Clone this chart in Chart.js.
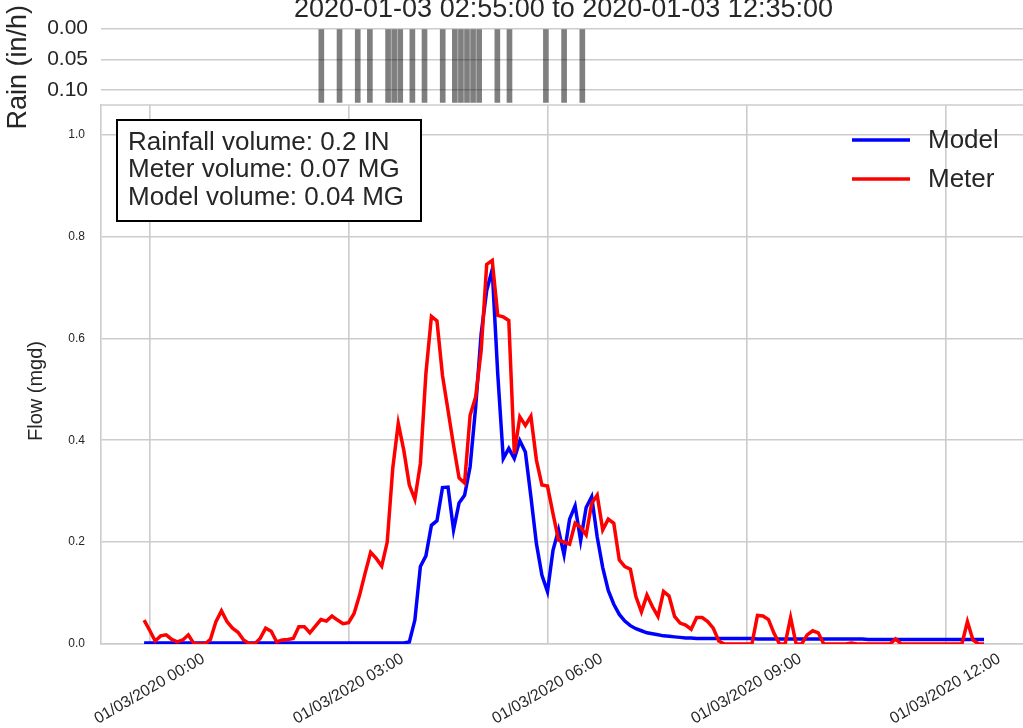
<!DOCTYPE html>
<html>
<head>
<meta charset="utf-8">
<title>Rain and flow 2020-01-03</title>
<script src="https://cdn.jsdelivr.net/npm/chart.js@4.4.0/dist/chart.umd.min.js"></script>
<style>
    html, body { margin: 0; padding: 0; background: #fff; overflow: hidden; }
    #wrap { position: relative; width: 1023px; height: 728px; overflow: hidden; }
    #flowChart, #rainChart { position: absolute; left: 0; top: 0; }
</style>
</head>
<body>
<div id="wrap">
    <canvas id="flowChart" width="1030" height="728"></canvas>
    <canvas id="rainChart" width="1030" height="140"></canvas>
</div>
<script>
// Rain hyetograph over metered vs modelled flow
const TITLE = '2020-01-03 02:55:00 to 2020-01-03 12:35:00';

// flow samples every 5 min, minutes relative to 01/03/2020 00:00
const flowStartMin = -5;
const flowStepMin = 5;

const meterFlow = [
    0.047, 0.027, 0.006, 0.016, 0.018, 0.009, 0.004, 0.008, 0.018, 0.001,
    0.000, 0.000, 0.009, 0.044, 0.065, 0.044, 0.031, 0.023, 0.008, 0.001,
    0.000, 0.011, 0.031, 0.025, 0.004, 0.008, 0.009, 0.011, 0.034, 0.034,
    0.022, 0.035, 0.048, 0.045, 0.055, 0.047, 0.040, 0.042, 0.060, 0.096,
    0.139, 0.180, 0.168, 0.153, 0.200, 0.345, 0.433, 0.380, 0.312, 0.284,
    0.354, 0.531, 0.643, 0.634, 0.527, 0.459, 0.390, 0.326, 0.316, 0.449,
    0.485, 0.576, 0.745, 0.753, 0.645, 0.642, 0.635, 0.374, 0.446, 0.429,
    0.447, 0.361, 0.312, 0.310, 0.256, 0.204, 0.200, 0.196, 0.237, 0.229,
    0.214, 0.276, 0.292, 0.224, 0.245, 0.237, 0.165, 0.152, 0.147, 0.093,
    0.063, 0.096, 0.073, 0.054, 0.103, 0.094, 0.054, 0.041, 0.037, 0.029,
    0.052, 0.052, 0.044, 0.031, 0.006, 0.000, 0.000, 0.000, 0.000, 0.000,
    0.000, 0.056, 0.055, 0.048, 0.021, 0.000, 0.000, 0.052, 0.000, 0.000,
    0.018, 0.026, 0.022, 0.000, 0.000, 0.000, 0.000, 0.000, 0.002, 0.000,
    0.000, 0.000, 0.000, 0.000, 0.000, 0.000, 0.010, 0.000, 0.000, 0.000,
    0.000, 0.000, 0.000, 0.000, 0.000, 0.000, 0.000, 0.000, 0.000, 0.044,
    0.008, 0.000, 0.000
];

const modelFlow = [
    0.002, 0.002, 0.002, 0.002, 0.002, 0.002, 0.002, 0.002, 0.002, 0.002,
    0.002, 0.002, 0.002, 0.002, 0.002, 0.002, 0.002, 0.002, 0.002, 0.002,
    0.002, 0.002, 0.002, 0.002, 0.002, 0.002, 0.002, 0.002, 0.002, 0.002,
    0.002, 0.002, 0.002, 0.002, 0.002, 0.002, 0.002, 0.002, 0.002, 0.002,
    0.002, 0.002, 0.002, 0.002, 0.002, 0.002, 0.002, 0.002, 0.004, 0.047,
    0.152, 0.173, 0.233, 0.242, 0.307, 0.308, 0.224, 0.277, 0.292, 0.348,
    0.465, 0.609, 0.694, 0.735, 0.530, 0.364, 0.384, 0.364, 0.399, 0.377,
    0.289, 0.197, 0.135, 0.103, 0.184, 0.224, 0.175, 0.245, 0.271, 0.203,
    0.268, 0.289, 0.210, 0.150, 0.105, 0.078, 0.058, 0.045, 0.036, 0.030,
    0.026, 0.022, 0.020, 0.018, 0.016, 0.015, 0.014, 0.013, 0.012, 0.012,
    0.011, 0.011, 0.011, 0.011, 0.011, 0.011, 0.011, 0.011, 0.011, 0.011,
    0.011, 0.010, 0.010, 0.010, 0.010, 0.010, 0.010, 0.010, 0.010, 0.010,
    0.010, 0.010, 0.010, 0.010, 0.010, 0.010, 0.010, 0.010, 0.010, 0.010,
    0.010, 0.009, 0.009, 0.009, 0.009, 0.009, 0.009, 0.009, 0.009, 0.009,
    0.009, 0.009, 0.009, 0.009, 0.009, 0.009, 0.009, 0.009, 0.009, 0.009,
    0.009, 0.009, 0.009
];

// rain bars: minute of each 5-min step and its intensity (in/h)
const rainTimes = [175, 190, 205, 215, 230, 235, 240, 250, 260, 275,
                   285, 290, 295, 300, 305, 320, 330, 360, 375, 390];
const rainRates = [0.12, 0.12, 0.12, 0.12, 0.12, 0.12, 0.12, 0.12, 0.12, 0.12,
                   0.12, 0.12, 0.12, 0.12, 0.12, 0.12, 0.12, 0.12, 0.12, 0.12];

const xTickMinutes = [0, 180, 360, 540, 720];
const xTickLabels = ['01/03/2020 00:00', '01/03/2020 03:00', '01/03/2020 06:00',
                     '01/03/2020 09:00', '01/03/2020 12:00'];
const flowTicks = [0, 0.2, 0.4, 0.6, 0.8, 1.0];
const rainTicks = [0, 0.05, 0.10];

const volumeNotes = ['Rainfall volume: 0.2 IN', 'Meter volume: 0.07 MG', 'Model volume: 0.04 MG'];

const FONT = '"Liberation Sans", Arial, sans-serif';
const GRID = '#cccccc';
const TEXT = '#262626';

Chart.defaults.font.family = FONT;
Chart.defaults.color = TEXT;

function toPoints(values) {
    return values.map((v, i) => ({ x: flowStartMin + i * flowStepMin, y: v }));
}

function fixedTicks(list) {
    return scale => { scale.ticks = list.map(v => ({ value: v })); };
}

function fixedWidth(w) {
    return scale => {
        scale.width = w;
        scale.paddingTop = 0;
        scale.paddingBottom = 0;
    };
}

// spine, axis label, rotated date labels, legend and the volume box
const flowDecor = {
    id: 'flowDecor',
    afterDatasetsDraw(chart) {
        const { ctx, chartArea: area, scales } = chart;
        ctx.save();

        ctx.strokeStyle = GRID;
        ctx.lineWidth = 1.6;
        ctx.beginPath();
        ctx.moveTo(area.left, area.top);
        ctx.lineTo(area.right, area.top);
        ctx.stroke();

        ctx.fillStyle = TEXT;
        ctx.textAlign = 'center';
        ctx.textBaseline = 'middle';

        ctx.font = '20px ' + FONT;
        ctx.save();
        ctx.translate(36, 391);
        ctx.rotate(-Math.PI / 2);
        ctx.fillText('Flow (mgd)', 0, 0);
        ctx.restore();

        ctx.font = '16px ' + FONT;
        xTickMinutes.forEach((m, i) => {
            const x = scales.x.getPixelForValue(m);
            ctx.save();
            ctx.translate(x, area.bottom + 45);
            ctx.rotate(-Math.PI / 6);
            ctx.fillText(xTickLabels[i], 0, 0);
            ctx.restore();
        });

        // legend, top right
        ctx.font = '26px ' + FONT;
        ctx.textAlign = 'left';
        chart.data.datasets.forEach((ds, i) => {
            const y = area.top + 35 + i * 39;
            ctx.strokeStyle = ds.borderColor;
            ctx.lineWidth = 3.5;
            ctx.beginPath();
            ctx.moveTo(852, y);
            ctx.lineTo(910, y);
            ctx.stroke();
            ctx.fillStyle = TEXT;
            ctx.fillText(ds.label, 928, y + 1);
        });

        // volume box, top left
        const bx = area.left + 16, by = area.top + 15;
        ctx.fillStyle = '#ffffff';
        ctx.fillRect(bx, by, 304, 101);
        ctx.strokeStyle = '#000000';
        ctx.lineWidth = 2;
        ctx.strokeRect(bx, by, 304, 101);
        ctx.fillStyle = TEXT;
        ctx.textBaseline = 'alphabetic';
        volumeNotes.forEach((line, i) => {
            ctx.fillText(line, bx + 11, by + 29.5 + i * 27.5);
        });

        ctx.restore();
    }
};

new Chart(document.getElementById('flowChart'), {
    type: 'line',
    data: {
        datasets: [
            { label: 'Model', data: toPoints(modelFlow), borderColor: '#0000ff', borderWidth: 3.5,
              pointRadius: 0, tension: 0, order: 1 },
            { label: 'Meter', data: toPoints(meterFlow), borderColor: '#ff0000', borderWidth: 3.5,
              pointRadius: 0, tension: 0, order: 0 }
        ]
    },
    options: {
        responsive: false,
        animation: false,
        devicePixelRatio: 1,
        layout: { padding: { top: 105, right: 4, bottom: 84, left: 0 } },
        plugins: { legend: { display: false }, tooltip: { enabled: false } },
        scales: {
            x: {
                type: 'linear', min: -44, max: 793,
                afterBuildTicks: fixedTicks(xTickMinutes),
                ticks: { display: false },
                grid: { color: GRID, lineWidth: 1.6, drawTicks: false },
                border: { display: true, color: GRID, width: 1.6 }
            },
            y: {
                min: 0, max: 1.058,
                afterBuildTicks: fixedTicks(flowTicks),
                afterFit: fixedWidth(101),
                ticks: { padding: 16, font: { size: 12 }, callback: v => v.toFixed(1) },
                grid: { color: GRID, lineWidth: 1.6, drawTicks: false },
                border: { display: true, color: GRID, width: 1.6 }
            }
        }
    },
    plugins: [flowDecor]
});

new Chart(document.getElementById('rainChart'), {
    type: 'bar',
    data: {
        datasets: [{
            label: 'Rain',
            data: rainTimes.map((t, i) => ({ x: t, y: rainRates[i] })),
            backgroundColor: 'rgba(0, 0, 0, 0.5)',
            borderWidth: 0,
            barThickness: 5
        }]
    },
    options: {
        responsive: false,
        animation: false,
        devicePixelRatio: 1,
        layout: { padding: { top: 0, right: 4, bottom: 34, left: 0 } },
        plugins: {
            legend: { display: false },
            tooltip: { enabled: false },
            title: {
                display: true, text: TITLE, fullSize: false, color: TEXT,
                font: { size: 27, weight: 'normal' },
                padding: { top: -7, bottom: 3.3 }
            }
        },
        scales: {
            x: { type: 'linear', min: -6.5, max: 755.5, offset: false, display: false,
                 grid: { offset: false } },
            y: {
                reverse: true, min: 0, max: 0.126,
                afterBuildTicks: fixedTicks(rainTicks),
                afterFit: fixedWidth(101),
                ticks: { padding: 13, font: { size: 21 }, callback: v => v.toFixed(2) },
                grid: { color: GRID, lineWidth: 1.6, drawTicks: false },
                border: { display: false },
                title: { display: true, text: 'Rain (in/h)', font: { size: 27 }, padding: { top: 2, bottom: 0 } }
            }
        }
    }
});
</script>
</body>
</html>
